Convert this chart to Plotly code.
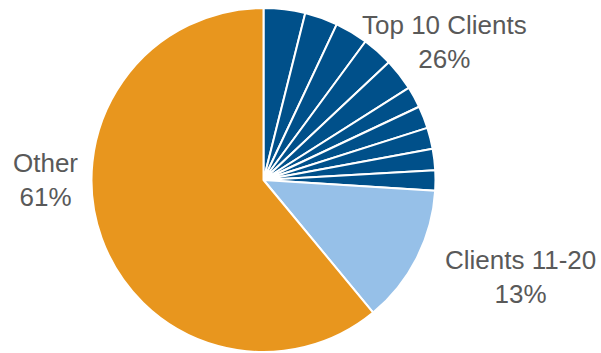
import plotly.graph_objects as go

# Share of revenue, in percent
top10_clients = [f"Client {i}" for i in range(1, 11)]
top10_share = [3.9, 3.1, 3.1, 2.9, 3.0, 2.0, 2.1, 2.0, 2.0, 1.9]
group_labels = ["Clients 11-20", "Other"]
group_share = [13, 61]

DARK_BLUE = "#00508a"
LIGHT_BLUE = "#96c0e8"
ORANGE = "#e8961e"
TEXT_GREY = "#595959"

labels = top10_clients + group_labels
values = top10_share + group_share
colors = [DARK_BLUE] * len(top10_clients) + [LIGHT_BLUE, ORANGE]

W, H = 601, 353
cx, cy, r = 263.5, 180, 172  # pie centre and radius in pixels

fig = go.Figure(
    go.Pie(
        labels=labels,
        values=values,
        sort=False,
        direction="clockwise",
        rotation=0,
        textinfo="none",
        hoverinfo="label+percent",
        marker=dict(colors=colors, line=dict(color="white", width=2)),
        domain=dict(
            x=[(cx - r) / W, (cx + r) / W],
            y=[(H - cy - r) / H, (H - cy + r) / H],
        ),
        showlegend=False,
    )
)

font = dict(family="Liberation Sans, Arial, sans-serif", size=26, color=TEXT_GREY)
callouts = [
    ("Top 10 Clients<br>26%", 444, 42),
    ("Clients 11-20<br>13%", 520, 277),
    ("Other<br>61%", 45, 180),
]
for text, x, y in callouts:
    fig.add_annotation(
        text=text, x=x / W, y=1 - y / H, xref="paper", yref="paper",
        showarrow=False, font=font, align="center",
        xanchor="center", yanchor="middle",
    )

fig.update_layout(
    width=W, height=H,
    margin=dict(l=0, r=0, t=0, b=0),
    paper_bgcolor="white", plot_bgcolor="white",
)

fig.write_html("out.html")
